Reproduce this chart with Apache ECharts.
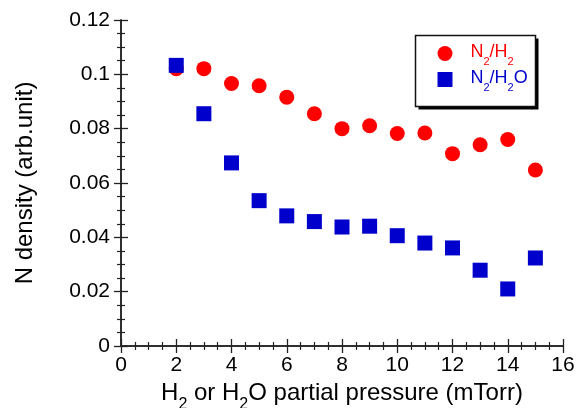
<!DOCTYPE html>
<html>
<head>
<meta charset="utf-8">
<script src="https://cdn.jsdelivr.net/npm/echarts@6/dist/echarts.min.js"></script>
<style>html,body{margin:0;padding:0;background:#fff}#c{width:583px;height:408px}</style>
</head>
<body>
<div id="c"></div>
<script>
const pressure = [2, 3, 4, 5, 6, 7, 8, 9, 10, 11, 12, 13, 14, 15];
const n2h2 = [0.1021, 0.1021, 0.0966, 0.0958, 0.0916, 0.0855, 0.0800, 0.0811, 0.0782, 0.0784, 0.0708, 0.0741, 0.0760, 0.0648];
const n2h2o = [0.1033, 0.0855, 0.0674, 0.0535, 0.0479, 0.0458, 0.0438, 0.0441, 0.0406, 0.0379, 0.0361, 0.0279, 0.0210, 0.0324];
const xTicks = { min: 0, max: 16, interval: 2 };
const yTicks = { min: 0, max: 0.12, interval: 0.02 };
const seriesNames = ['N2/H2', 'N2/H2O'];

const FONT = "'Liberation Sans', Arial, sans-serif";
const chart = echarts.init(document.getElementById('c'), null, { renderer: 'canvas' });

const legendLabels = {
  'N2/H2': '{m|N}{s|2}{m|/H}{s|2}',
  'N2/H2O': '{m|N}{s|2}{m|/H}{s|2}{m|O}'
};

const axisLine = { show: true, lineStyle: { color: '#222', width: 1.5 } };
function frameAxis(base, extra) { return Object.assign({}, base, extra); }

const xBase = {
  type: 'value', min: xTicks.min, max: xTicks.max, interval: xTicks.interval,
  axisLine: axisLine,
  axisTick: { inside: true, length: 7, lineStyle: { color: '#222', width: 1.3 } },
  minorTick: { show: true, splitNumber: 4, length: 4, lineStyle: { color: '#222', width: 1.2 } },
  splitLine: { show: false }
};
const yBase = {
  type: 'value', min: yTicks.min, max: yTicks.max, interval: yTicks.interval,
  axisLine: axisLine,
  axisTick: { inside: true, length: 7, lineStyle: { color: '#222', width: 1.3 } },
  minorTick: { show: true, splitNumber: 4, length: 4, lineStyle: { color: '#222', width: 1.2 } },
  splitLine: { show: false }
};

chart.setOption({
  animation: false,
  backgroundColor: '#fff',
  textStyle: { fontFamily: FONT },
  grid: { left: 121, right: 20, top: 20, bottom: 62, containLabel: false, outerBoundsMode: 'none' },
  graphic: [
    { type: 'rect', z: 10, silent: true, shape: { x: 418.5, y: 38.5, width: 120, height: 71 }, style: { fill: '#000' } },
    { type: 'rect', z: 11, silent: true, shape: { x: 415.5, y: 35.5, width: 120, height: 71 }, style: { fill: '#fff', stroke: '#111', lineWidth: 1.5 } }
  ],
  legend: {
    orient: 'vertical',
    left: 437.5, top: 43.5,
    padding: 0, z: 20,
    itemWidth: 15, itemHeight: 15, itemGap: 2.5,
    formatter: function (name) { return legendLabels[name]; },
    textStyle: {
      padding: [0, 0, 0, 13],
      rich: {
        m: { fontSize: 18, fontFamily: FONT, lineHeight: 20, verticalAlign: 'top' },
        s: { fontSize: 11, fontFamily: FONT, lineHeight: 11, verticalAlign: 'top', padding: [12.5, 0, 0, 0] }
      }
    },
    data: [
      { name: 'N2/H2', icon: 'circle', itemStyle: { opacity: 1 }, textStyle: { color: '#ff0000' } },
      { name: 'N2/H2O', icon: 'rect', itemStyle: { opacity: 1 }, textStyle: { color: '#0000cc' } }
    ]
  },
  xAxis: [
    frameAxis(xBase, {
      position: 'bottom',
      axisLabel: { fontSize: 21, color: '#000', margin: 9, fontFamily: FONT },
      name: '{m|H}{s|2}{m| or H}{s|2}{m|O partial pressure (mTorr)}',
      nameLocation: 'middle', nameGap: 31.5,
      nameTextStyle: {
        color: '#000',
        rich: {
          m: { fontSize: 24, fontFamily: FONT, lineHeight: 27, verticalAlign: 'top', color: '#000' },
          s: { fontSize: 16, fontFamily: FONT, lineHeight: 16, verticalAlign: 'top', padding: [16, 0, 0, 0], color: '#000' }
        }
      }
    }),
    frameAxis(xBase, { position: 'top', axisLabel: { show: false } })
  ],
  yAxis: [
    frameAxis(yBase, {
      position: 'left',
      axisLabel: { fontSize: 21, color: '#000', margin: 11, fontFamily: FONT },
      name: 'N density (arb.unit)',
      nameLocation: 'middle', nameGap: 84,
      nameTextStyle: { fontSize: 24, color: '#000', fontFamily: FONT }
    }),
    frameAxis(yBase, { position: 'right', axisLabel: { show: false } })
  ],
  series: [
    {
      name: seriesNames[0], type: 'scatter', symbol: 'circle', symbolSize: 15,
      itemStyle: { color: '#ff0000', opacity: 1 },
      data: pressure.map((p, i) => [p, n2h2[i]])
    },
    {
      name: seriesNames[1], type: 'scatter', symbol: 'rect', symbolSize: 15,
      itemStyle: { color: '#0000cc', opacity: 1 },
      data: pressure.map((p, i) => [p, n2h2o[i]])
    }
  ]
});
</script>
</body>
</html>
